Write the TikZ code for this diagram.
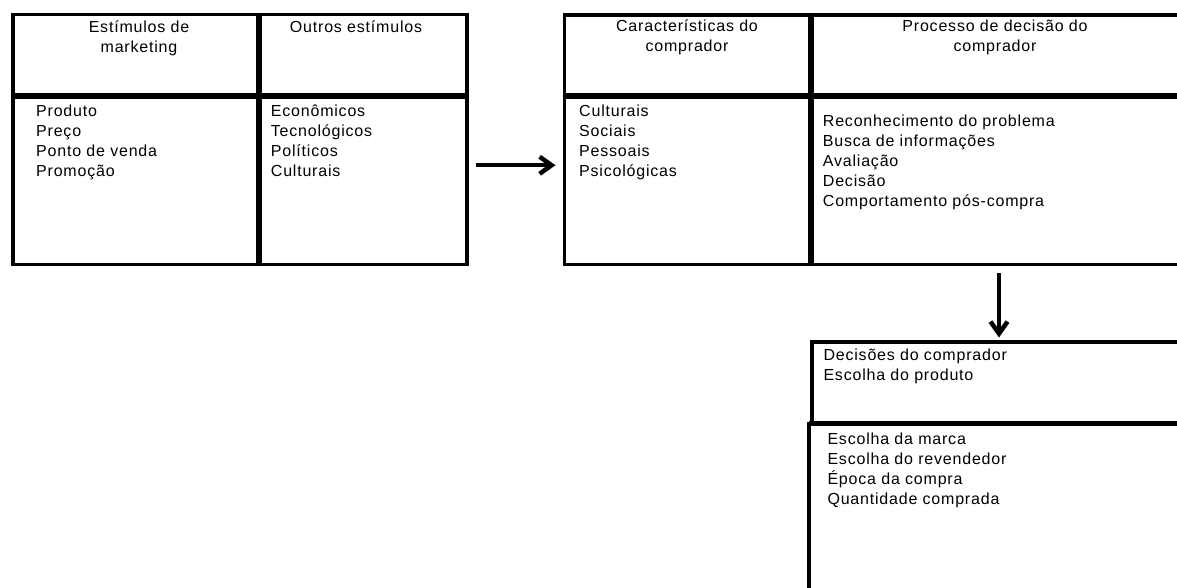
\documentclass[tikz,border=0pt]{standalone}
\usepackage{fontspec}
\setmainfont{Liberation Sans}[LetterSpace=5]
\usetikzlibrary{arrows.meta}
\begin{document}
\begin{tikzpicture}[x=1pt,y=-1pt,
  cell/.style={draw, line width=3.5pt, anchor=north west, inner sep=0pt, outer sep=0pt},
  div/.style={line width=5.5pt},
  txt/.style={inner sep=0pt, font=\fontsize{16}{20}\selectfont},
  arr/.style={line width=4.5pt, -{Straight Barb[length=12pt,width=17pt]}}]
\useasboundingbox (0,0) rectangle (1177,588);
\clip (0,0) rectangle (1177,588);
% left table
\node[cell, minimum width=246, minimum height=81.5] (c11) at (13,14.5) {};
\node[cell, minimum width=208, minimum height=81.5] (c12) at (259,14.5) {};
\node[cell, minimum width=246, minimum height=168.5] (c21) at (13,96) {};
\node[cell, minimum width=208, minimum height=168.5] (c22) at (259,96) {};
\draw[div] (c21.north west) -- (c22.north east);
\draw[div] (c11.north east) -- (c21.south east);
% right table
\node[cell, minimum width=246.5, minimum height=81] (d11) at (564.5,15) {};
\node[cell, minimum width=370, minimum height=81] (d12) at (811,15) {};
\node[cell, minimum width=246.5, minimum height=168.5] (d21) at (564.5,96) {};
\node[cell, minimum width=370, minimum height=168.5] (d22) at (811,96) {};
\draw[div] (d21.north west) -- (d22.north east);
\draw[div] (d11.north east) -- (d21.south east);
% bottom box
\node[cell, minimum width=369, minimum height=81.5] (e1) at (812,342) {};
\node[cell, minimum width=372, minimum height=180] (e2) at (809,423.5) {};
\draw[div] (e2.north west) -- (e2.north east);
% texts
\node[txt, anchor=base] (t11) at (139,33) {\begin{tabular}[t]{@{}c@{}}Estímulos de\\marketing\end{tabular}};
\node[txt, anchor=base] (t12) at (356,33) {\begin{tabular}[t]{@{}c@{}}Outros estímulos\end{tabular}};
\node[txt, anchor=base west] (t21) at (36,117) {\begin{tabular}[t]{@{}l@{}}Produto\\Preço\\Ponto de venda\\Promoção\end{tabular}};
\node[txt, anchor=base west] (t22) at (270.7,117) {\begin{tabular}[t]{@{}l@{}}Econômicos\\Tecnológicos\\Políticos\\Culturais\end{tabular}};
\node[txt, anchor=base] (u11) at (687,32) {\begin{tabular}[t]{@{}c@{}}Características do\\comprador\end{tabular}};
\node[txt, anchor=base] (u12) at (995,32) {\begin{tabular}[t]{@{}c@{}}Processo de decisão do\\comprador\end{tabular}};
\node[txt, anchor=base west] (u21) at (579,117) {\begin{tabular}[t]{@{}l@{}}Culturais\\Sociais\\Pessoais\\Psicológicas\end{tabular}};
\node[txt, anchor=base west] (u22) at (822.7,126.7) {\begin{tabular}[t]{@{}l@{}}Reconhecimento do problema\\Busca de informações\\Avaliação\\Decisão\\Comportamento pós-compra\end{tabular}};
\node[txt, anchor=base west] (v1) at (823.3,360) {\begin{tabular}[t]{@{}l@{}}Decisões do comprador\\Escolha do produto\end{tabular}};
\node[txt, anchor=base west] (v2) at (827.3,444.3) {\begin{tabular}[t]{@{}l@{}}Escolha da marca\\Escolha do revendedor\\Época da compra\\Quantidade comprada\end{tabular}};
% arrows
\draw[arr] ([shift={(9,-15)}]c22.east) -- ([shift={(-9,-15)}]d21.west);
\draw[arr] ([shift={(3,8.5)}]d22.south) -- ([shift={(2.5,-4.5)}]e1.north);
\end{tikzpicture}
\end{document}
